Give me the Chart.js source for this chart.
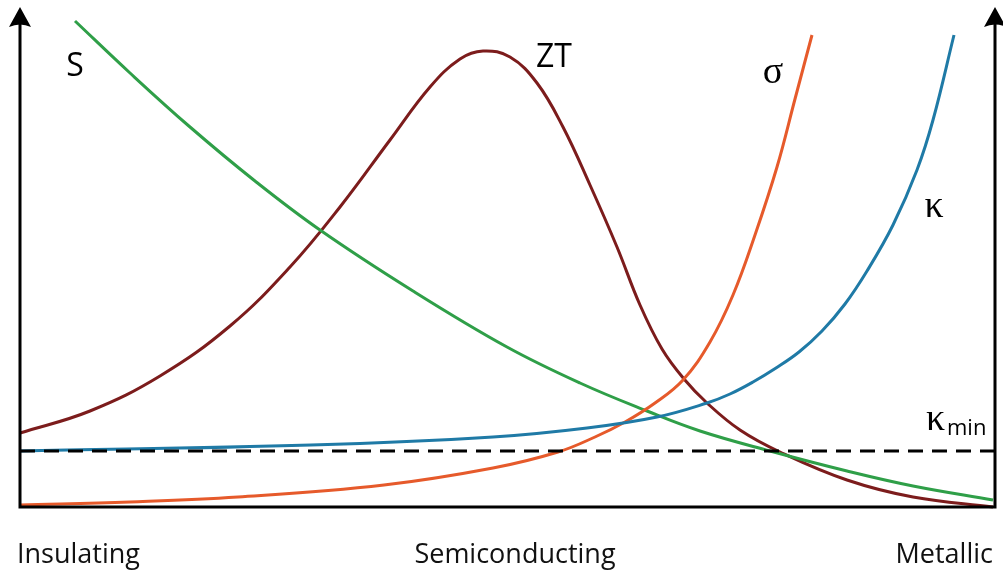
<!DOCTYPE html>
<html>
<head>
<meta charset="utf-8">
<script src="https://cdn.jsdelivr.net/npm/chart.js@4"></script>
<style>
  html, body { margin: 0; padding: 0; background: #fff; }
  #wrap { position: relative; width: 1003px; height: 573px; }
</style>
</head>
<body>
<div id="wrap"><canvas id="c"></canvas></div>
<script>
// Values (arbitrary units: x = doping/carrier level, y = magnitude)
const S_x     = [55, 110, 170, 235, 300, 393, 487, 560, 627, 680, 750, 827, 893, 973];
const S_y     = [486, 434, 380, 326, 277, 216, 160, 124, 96, 76, 56, 36, 21, 7];

const ZT_x    = [0, 70, 140, 210, 270, 320, 370, 410, 440, 463, 490, 517, 543, 570, 597, 620, 642, 664, 687, 720, 760, 827, 893, 973];
const ZT_y    = [74, 96, 131, 181, 240, 300, 367, 420, 448, 456, 450, 424, 380, 322, 260, 202, 158, 128, 104, 77, 55, 27, 10, 0];

const SIGMA_x = [0, 110, 218, 364, 473, 538, 575, 605, 635, 663, 690, 713, 735, 757, 775, 792];
const SIGMA_y = [2, 5, 10, 22, 39, 55, 70, 85, 104, 127, 165, 212, 272, 340, 408, 472];

const KAPPA_x = [0, 291, 473, 567, 637, 687, 710, 733, 756, 779, 802, 825, 847, 873, 897, 913, 934];
const KAPPA_y = [56, 62, 70, 79, 90, 104, 113, 125, 139, 155, 176, 203, 236, 282, 337, 387, 472];

const KMIN_x  = [0, 975];
const KMIN_y  = [56, 56];

const X_MIN = 0, X_MAX = 975, Y_MIN = 0, Y_MAX = 502;
const regimeLabels = ['Insulating', 'Semiconducting', 'Metallic'];
const regimeX = [0, 495, 975];

const pts = (xs, ys) => xs.map((x, i) => ({ x: x, y: ys[i] }));

const axesPlugin = {
  id: 'axesAndLabels',
  afterDatasetsDraw(chart) {
    const ctx = chart.ctx;
    const a = chart.chartArea;
    const xs = chart.scales.x, ys = chart.scales.y;
    ctx.save();
    ctx.strokeStyle = '#000';
    ctx.fillStyle = '#000';
    ctx.lineWidth = 3;
    ctx.lineCap = 'butt';
    const L = xs.getPixelForValue(X_MIN), R = xs.getPixelForValue(X_MAX);
    const B = ys.getPixelForValue(Y_MIN);
    const tipY = a.top + 2;
    ctx.beginPath();
    ctx.moveTo(L, tipY + 16);
    ctx.lineTo(L, B);
    ctx.lineTo(R, B);
    ctx.lineTo(R, tipY + 16);
    ctx.stroke();
    const arrow = (x) => {
      ctx.beginPath();
      ctx.moveTo(x, tipY);
      ctx.lineTo(x + 11, tipY + 20);
      ctx.quadraticCurveTo(x, tipY + 15, x - 11, tipY + 20);
      ctx.closePath();
      ctx.fill();
    };
    arrow(L);
    arrow(R);

    const sans = '"Open Sans", "DejaVu Sans", sans-serif';
    const serif = '"Liberation Serif", "DejaVu Serif", serif';
    const P = (vx, vy) => [xs.getPixelForValue(vx), ys.getPixelForValue(vy)];
    ctx.textBaseline = 'alphabetic';
    ctx.textAlign = 'center';
    let p;
    ctx.font = '32px ' + sans;
    p = P(55, 431); ctx.fillText('S', p[0], p[1]);
    p = P(534, 440); ctx.fillText('ZT', p[0], p[1]);
    ctx.font = '38px ' + serif;
    p = P(753, 424); ctx.fillText('σ', p[0], p[1]);
    p = P(914, 290); ctx.fillText('κ', p[0], p[1]);
    ctx.textAlign = 'left';
    p = P(906, 77); ctx.fillText('κ', p[0], p[1]);
    ctx.font = '22px ' + sans;
    p = P(927, 72); ctx.fillText('min', p[0], p[1]);

    ctx.font = '27px ' + sans;
    ctx.fillStyle = '#111';
    const base = B + 56;
    ctx.textAlign = 'left';
    ctx.fillText(regimeLabels[0], xs.getPixelForValue(regimeX[0]) - 3, base);
    ctx.textAlign = 'center';
    ctx.fillText(regimeLabels[1], xs.getPixelForValue(regimeX[1]), base);
    ctx.textAlign = 'right';
    ctx.fillText(regimeLabels[2], xs.getPixelForValue(regimeX[2]) - 2, base);
    ctx.restore();
  }
};

const common = { pointRadius: 0, borderWidth: 3, fill: false, tension: 0.4, clip: false };

new Chart(document.getElementById('c'), {
  type: 'line',
  data: {
    datasets: [
      Object.assign({}, common, { label: 'κmin', data: pts(KMIN_x, KMIN_y), borderColor: '#000', borderDash: [15, 9], tension: 0 }),
      Object.assign({}, common, { label: 'κ', data: pts(KAPPA_x, KAPPA_y), borderColor: '#1f7aa6' }),
      Object.assign({}, common, { label: 'σ', data: pts(SIGMA_x, SIGMA_y), borderColor: '#e65a2b' }),
      Object.assign({}, common, { label: 'S', data: pts(S_x, S_y), borderColor: '#2f9f48' }),
      Object.assign({}, common, { label: 'ZT', data: pts(ZT_x, ZT_y), borderColor: '#7c1c1c' })
    ]
  },
  options: {
    responsive: true,
    maintainAspectRatio: false,
    animation: false,
    layout: { padding: { left: 20, right: 8, top: 5, bottom: 66 } },
    plugins: { legend: { display: false }, tooltip: { enabled: false } },
    scales: {
      x: { type: 'linear', min: X_MIN, max: X_MAX, display: false },
      y: { type: 'linear', min: Y_MIN, max: Y_MAX, display: false }
    }
  },
  plugins: [axesPlugin]
});
</script>
</body>
</html>
